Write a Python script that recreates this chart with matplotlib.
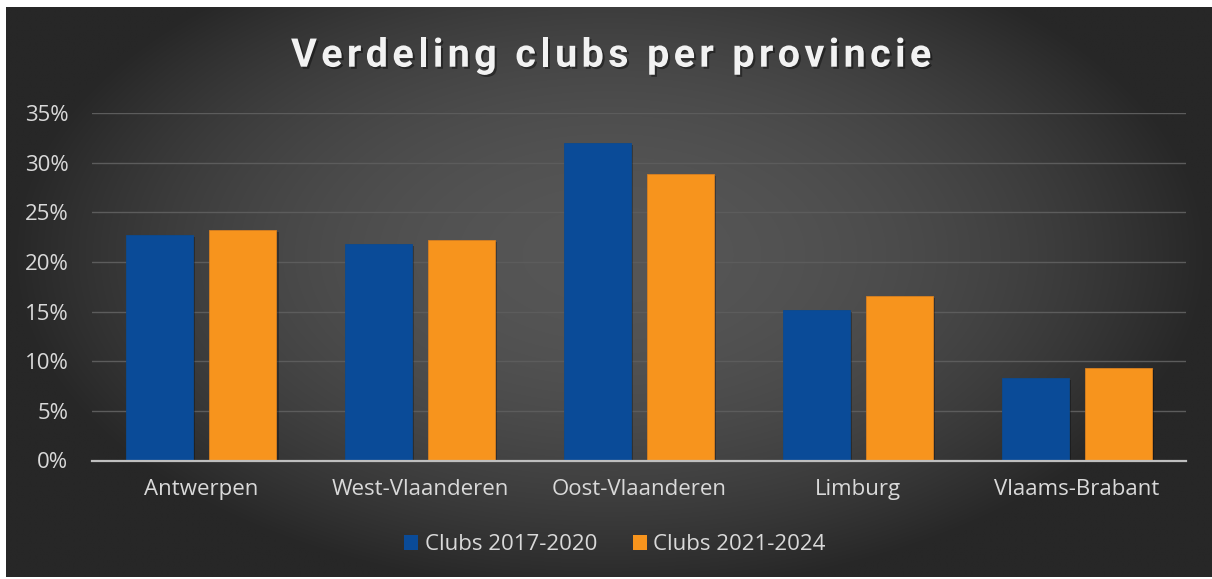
import numpy as np
import matplotlib
matplotlib.use("Agg")
import matplotlib.pyplot as plt
import matplotlib.patheffects as pe
from matplotlib.font_manager import findfont, FontProperties
from matplotlib.ft2font import FT2Font
from matplotlib.ticker import FuncFormatter

# ---- data ----
categories = ["Antwerpen", "West-Vlaanderen", "Oost-Vlaanderen", "Limburg", "Vlaams-Brabant"]
clubs_2017_2020 = [0.227, 0.218, 0.320, 0.152, 0.083]
clubs_2021_2024 = [0.232, 0.222, 0.289, 0.166, 0.093]
series_labels = ["Clubs 2017-2020", "Clubs 2021-2024"]
title_text = "Verdeling clubs per provincie"
y_ticks = [0.0, 0.05, 0.10, 0.15, 0.20, 0.25, 0.30, 0.35]

W, H, DPI = 1212, 579, 100
fig = plt.figure(figsize=(W / DPI, H / DPI), dpi=DPI, facecolor="white")

TEXT_FONT = ["Open Sans", "DejaVu Sans"]
TEXT_SIZE = 16.0
TEXT_COLOR = "#d9d9d9"
BLUE = "#0A4B98"
ORANGE = "#F7941D"

# ---- background with radial gradient ----
bg_l, bg_r = 6 / W, 1.0
bg_b, bg_t = 2 / H, 1 - 7 / H
bg = fig.add_axes([bg_l, bg_b, bg_r - bg_l, bg_t - bg_b], zorder=0)
bg.set_axis_off()
nx, ny = 600, 290
xs = np.linspace(6, 1212, nx)
ys = np.linspace(7, 577, ny)
X, Y = np.meshgrid(xs, ys)
r2 = ((X - 610) / 600) ** 2 + ((Y - 255) / 340) ** 2
r2 = np.clip(r2, 0, 1)
val = (39 + (86 - 39) * (1 - r2)) / 255.0
img = np.dstack([val, val, val])
bg.imshow(img, extent=[0, 1, 0, 1], origin="upper", aspect="auto", interpolation="bilinear")
bg.set_xlim(0, 1)
bg.set_ylim(0, 1)

# ---- main axes ----
ax_l, ax_r = 92 / W, 1186 / W
ax_b, ax_t = 118.5 / H, 466 / H
ax = fig.add_axes([ax_l, ax_b, ax_r - ax_l, ax_t - ax_b], zorder=1)
ax.patch.set_alpha(0)

x = np.arange(len(categories))
bw = 0.306
off = 0.19
shadow = [pe.SimplePatchShadow(offset=(1.5, -1.5), shadow_rgbFace="black", alpha=0.3), pe.Normal()]
b1 = ax.bar(x - off, clubs_2017_2020, width=bw, color=BLUE, edgecolor="#0B4A90", linewidth=0.6,
            label=series_labels[0], zorder=3)
b2 = ax.bar(x + off, clubs_2021_2024, width=bw, color=ORANGE, edgecolor="#D98020", linewidth=0.6,
            label=series_labels[1], zorder=3)
for b in list(b1) + list(b2):
    b.set_path_effects(shadow)

ax.set_xlim(-0.5, len(categories) - 0.5)
ax.set_ylim(0, 0.35)
ax.set_yticks(y_ticks)
ax.yaxis.set_major_formatter(FuncFormatter(lambda v, p: f"{v * 100:.0f}%"))
ax.set_xticks(x)
ax.set_xticklabels(categories)
ax.grid(axis="y", color="#5c5c5c", linewidth=1.0, zorder=0)
ax.set_axisbelow(True)
for s in ["top", "right", "left"]:
    ax.spines[s].set_visible(False)
ax.spines["bottom"].set_color("#bfbfbf")
ax.spines["bottom"].set_linewidth(1.6)
ax.spines["bottom"].set_zorder(4)
ax.tick_params(axis="both", length=0, colors=TEXT_COLOR, labelsize=TEXT_SIZE)
ax.tick_params(axis="y", pad=17)
ax.tick_params(axis="x", pad=13)
for t in ax.get_xticklabels() + ax.get_yticklabels():
    t.set_fontfamily(TEXT_FONT)

# ---- title with letter spacing ----
title_size = 28.5
tprops = FontProperties(family="Roboto", weight="bold", size=title_size)
font = FT2Font(findfont(tprops))
font.set_size(title_size, 72)
adv = []
for c in title_text:
    g = font.load_char(ord(c))
    adv.append(g.linearHoriAdvance / 65536.0 * DPI / 72.0)
natural = sum(adv[:-1])
target_left, target_right = 291, 927
last_w = adv[-1]
spacing = ((target_right - target_left) - natural - last_w * 0.8) / (len(title_text) - 1)
xpos = target_left
baseline_y = 1 - 66.7 / H
for c, a in zip(title_text, adv):
    if c != " ":
        fig.text(xpos / W, baseline_y, c, fontproperties=tprops, color="#f2f2f2",
                 ha="left", va="baseline", zorder=5,
                 path_effects=[pe.withSimplePatchShadow(offset=(1.5, -1.5), shadow_rgbFace="black", alpha=0.4)])
    xpos += a + spacing

# ---- legend ----
leg = fig.legend(handles=[b1, b2], labels=series_labels, loc="center", bbox_to_anchor=(615 / W, 1 - 545 / H),
                 ncol=2, frameon=False, handlelength=0.62, handleheight=0.62, handletextpad=0.3,
                 columnspacing=1.6, prop=FontProperties(family=TEXT_FONT, size=TEXT_SIZE))
for t in leg.get_texts():
    t.set_color(TEXT_COLOR)
for h in leg.legend_handles:
    h.set_path_effects([])
    h.set_linewidth(0)

fig.savefig("out.png", dpi=DPI, facecolor="white")
